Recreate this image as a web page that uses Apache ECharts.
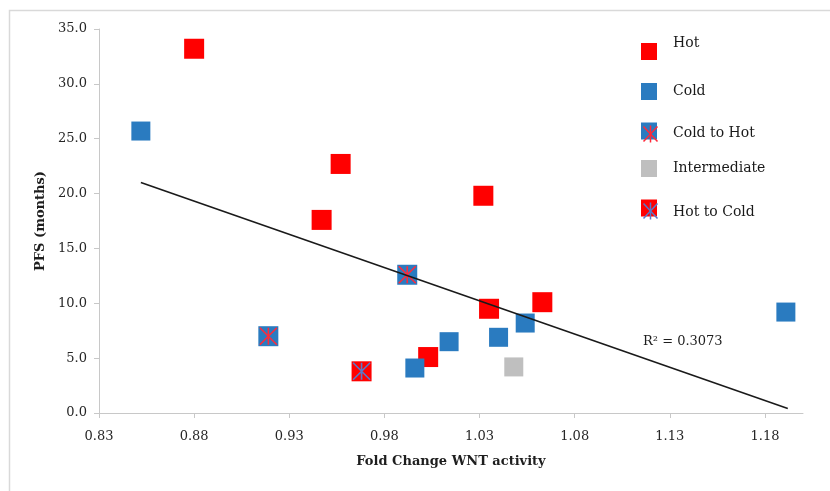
<!DOCTYPE html>
<html><head><meta charset="utf-8">
<script src="https://cdn.jsdelivr.net/npm/echarts@6/dist/echarts.min.js"></script>
<style>html,body{margin:0;padding:0;background:#fff}#c{width:830px;height:491px}</style>
</head><body><div id="c"></div>
<script>
// ---- data ----
const hotX = [0.880, 0.957, 0.947, 1.032, 1.035, 1.063, 1.003];
const hotY = [33.2, 22.7, 17.6, 19.8, 9.5, 10.1, 5.1];
const coldX = [0.852, 1.014, 1.040, 1.054, 0.996, 1.191];
const coldY = [25.7, 6.5, 6.9, 8.2, 4.1, 9.2];
const coldToHotX = [0.992, 0.919];
const coldToHotY = [12.6, 7.0];
const intermediateX = [1.048];
const intermediateY = [4.2];
const hotToColdX = [0.968];
const hotToColdY = [3.8];
const trendX = [0.852, 1.192];
const trendY = [21.0, 0.4];
const xTicks = [0.83, 0.88, 0.93, 0.98, 1.03, 1.08, 1.13, 1.18];
const yTicks = [0, 5, 10, 15, 20, 25, 30, 35];
const legendNames = ['Hot', 'Cold', 'Cold to Hot', 'Intermediate', 'Hot to Cold'];
const xTitle = 'Fold Change WNT activity';
const yTitle = 'PFS (months)';
const r2Label = 'R\u00B2 = 0.3073';

// ---- build ----
const pts = (xs, ys) => xs.map((x, i) => [x, ys[i]]);
const RED = '#ff0000', BLUE = '#2a7bc0', GRAY = '#bfbfbf';
const FONT = 'DejaVu Serif';
const STAR = 'path://M0,0L20,20M20,0L0,20M10,0L10,20';

const chart = echarts.init(document.getElementById('c'), null, {renderer: 'canvas'});

// icon tops: 43, 83, 123, 160, 200 ; text vertical shift via blank line
const legendTops = [35.5, 83, 122, 160, 197];
const legendFmt = [n => n + '\n', n => n, n => '\n' + n, n => n, n => '\n' + n];
const legendLH = [16, 17, 4, 17, 8];

function starGroup(top, color) {
  return {type: 'group', left: 641, top: top, z: 100, silent: true, children: [
    {type: 'line', z: 100, shape: {x1: 1, y1: 1, x2: 15, y2: 16}, style: {stroke: color, lineWidth: 1.5}},
    {type: 'line', z: 100, shape: {x1: 15, y1: 1, x2: 1, y2: 16}, style: {stroke: color, lineWidth: 1.5}},
    {type: 'line', z: 100, shape: {x1: 8, y1: 0, x2: 8, y2: 17}, style: {stroke: color, lineWidth: 1.5}}
  ]};
}

const option = {
  animation: false,
  backgroundColor: '#fff',
  grid: {left: 99, right: 27, top: 29, bottom: 78, containLabel: false},
  xAxis: {
    type: 'value', min: 0.83, max: 1.20, interval: 0.05,
    name: xTitle, nameLocation: 'middle', nameGap: 42,
    nameTextStyle: {fontFamily: FONT, fontWeight: 'bold', fontSize: 13, color: '#1e1e1e'},
    axisLine: {show: true, lineStyle: {color: '#c8c8c8', width: 1}},
    axisTick: {show: true, length: 5, lineStyle: {color: '#c8c8c8'}, customValues: xTicks},
    axisLabel: {fontFamily: FONT, fontSize: 13, color: '#262626', margin: 17,
      customValues: xTicks, formatter: v => v.toFixed(2)},
    splitLine: {show: false}
  },
  yAxis: {
    type: 'value', min: 0, max: 35, interval: 5,
    name: yTitle, nameLocation: 'middle', nameGap: 50,
    nameTextStyle: {fontFamily: FONT, fontWeight: 'bold', fontSize: 13, color: '#1e1e1e'},
    axisLine: {show: true, lineStyle: {color: '#c8c8c8', width: 1}},
    axisTick: {show: true, length: 5, lineStyle: {color: '#c8c8c8'}, customValues: yTicks},
    axisLabel: {fontFamily: FONT, fontSize: 13, color: '#262626', margin: 12,
      customValues: yTicks, formatter: v => v.toFixed(1)},
    splitLine: {show: false}
  },
  legend: legendNames.map((n, i) => ({
    data: [n], left: 641, top: legendTops[i], padding: 0, z: 4,
    itemWidth: 16, itemHeight: 17, selectedMode: false,
    formatter: legendFmt[i],
    textStyle: {fontFamily: FONT, fontSize: 14, color: '#1a1a1a', lineHeight: legendLH[i], padding: [0, 0, 0, 11]}
  })),
  series: [
    {name: 'Hot', type: 'scatter', symbol: 'rect', symbolSize: 20, itemStyle: {color: RED, opacity: 1}, data: pts(hotX, hotY)},
    {name: 'Cold', type: 'scatter', symbol: 'rect', symbolSize: 19, itemStyle: {color: BLUE, opacity: 1}, data: pts(coldX, coldY)},
    {name: 'Cold to Hot', type: 'scatter', symbol: 'rect', symbolSize: 20, itemStyle: {color: BLUE, opacity: 1}, data: pts(coldToHotX, coldToHotY)},
    {name: 'Intermediate', type: 'scatter', symbol: 'rect', symbolSize: 19, itemStyle: {color: GRAY, opacity: 1}, data: pts(intermediateX, intermediateY)},
    {name: 'Hot to Cold', type: 'scatter', symbol: 'rect', symbolSize: 20, itemStyle: {color: RED, opacity: 1}, data: pts(hotToColdX, hotToColdY)},
    {name: 'cthStar', type: 'scatter', symbol: STAR, symbolSize: 17, z: 3,
      itemStyle: {color: 'rgba(0,0,0,0)', borderColor: '#ff2a3a', borderWidth: 1.6, opacity: 1}, data: pts(coldToHotX, coldToHotY)},
    {name: 'htcStar', type: 'scatter', symbol: STAR, symbolSize: 17, z: 3,
      itemStyle: {color: 'rgba(0,0,0,0)', borderColor: '#5a78c8', borderWidth: 1.6, opacity: 1}, data: pts(hotToColdX, hotToColdY)},
    {name: 'trend', type: 'line', symbol: 'none', z: 4, silent: true,
      lineStyle: {color: '#1a1a1a', width: 1.6}, data: pts(trendX, trendY)}
  ],
  graphic: [
    {type: 'rect', left: 7, top: 8, silent: true, shape: {width: 840, height: 500},
      style: {fill: 'none', stroke: '#d9d9d9', lineWidth: 1.5}},
    {type: 'text', left: 643, top: 335, style: {text: r2Label, font: '13px "DejaVu Serif"', fill: '#1e1e1e'}},
    starGroup(123, '#ff2a3a'),
    starGroup(200, '#5a78c8')
  ]
};
chart.setOption(option);
</script>
</body></html>
